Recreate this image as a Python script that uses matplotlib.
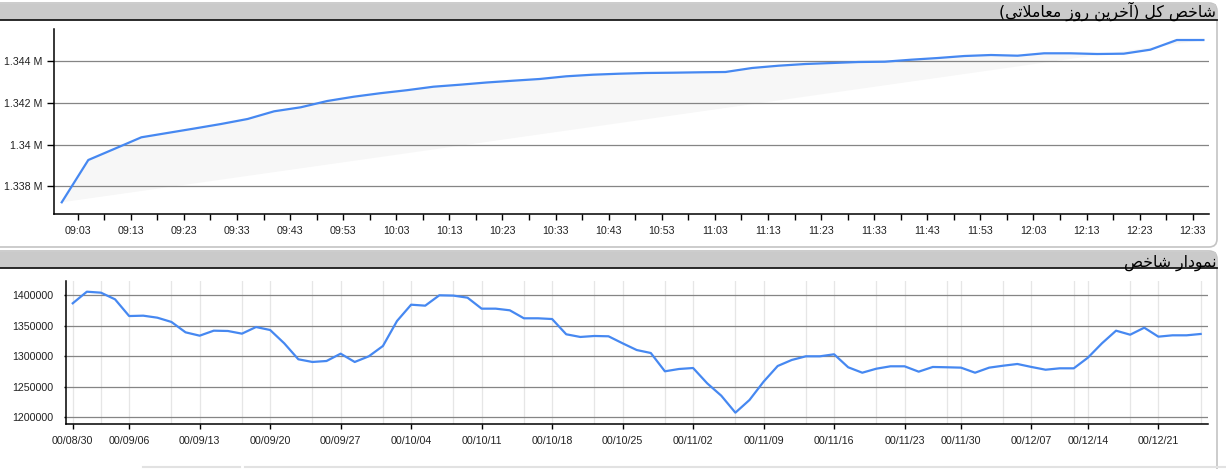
import matplotlib
matplotlib.use("Agg")
import matplotlib.pyplot as plt
from matplotlib.patches import FancyBboxPatch, Rectangle

# ---- داده‌ها: شاخص کل در آخرین روز معاملاتی (هر ۵ دقیقه)
times = ["09:00", "09:05", "09:10", "09:15", "09:20", "09:25", "09:30", "09:35",
         "09:40", "09:45", "09:50", "09:55", "10:00", "10:05", "10:10", "10:15",
         "10:20", "10:25", "10:30", "10:35", "10:40", "10:45", "10:50", "10:55",
         "11:00", "11:05", "11:10", "11:15", "11:20", "11:25", "11:30", "11:35",
         "11:40", "11:45", "11:50", "11:55", "12:00", "12:05", "12:10", "12:15",
         "12:20", "12:25", "12:30", "12:35"]
intraday = [1337235, 1339264, 1339807, 1340354, 1340565, 1340776, 1340992, 1341232,
            1341601, 1341793, 1342095, 1342301, 1342469, 1342613, 1342781, 1342877,
            1342983, 1343069, 1343151, 1343280, 1343357, 1343405, 1343439, 1343453,
            1343472, 1343487, 1343679, 1343789, 1343870, 1343918, 1343966, 1343981,
            1344077, 1344158, 1344254, 1344302, 1344269, 1344384, 1344384, 1344350,
            1344365, 1344557, 1345022, 1345022]
top_yticks = [1338000, 1340000, 1342000, 1344000]
top_ylabels = ["1.338 M", "1.34 M", "1.342 M", "1.344 M"]

# ---- داده‌ها: نمودار شاخص (روزهای معاملاتی)
daily = [1386900, 1405900, 1404300, 1393400, 1366000, 1366600, 1363300, 1356300,
         1339300, 1333800, 1342000, 1341500, 1337100, 1348000, 1343100, 1321300,
         1295100, 1290700, 1292300, 1304300, 1290700, 1300000, 1316900, 1357900,
         1384600, 1383000, 1400000, 1399500, 1396100, 1378100, 1378100, 1375400,
         1362300, 1362300, 1361100, 1336100, 1331700, 1333300, 1332800, 1321300,
         1310300, 1305400, 1275400, 1279200, 1280800, 1255700, 1235400, 1207600,
         1228400, 1258400, 1284100, 1294000, 1300000, 1300000, 1303300, 1282000,
         1273100, 1279700, 1283600, 1283600, 1274800, 1282500, 1282000, 1281400,
         1273100, 1281400, 1284600, 1287400, 1282500, 1278000, 1280300, 1280300,
         1297700, 1321300, 1342000, 1335400, 1346900, 1332200, 1334400, 1334400,
         1336600]
date_idx = [0, 4, 9, 14, 19, 24, 29, 34, 39, 44, 49, 54, 59, 63, 68, 72, 77]
date_labels = ["00/08/30", "00/09/06", "00/09/13", "00/09/20", "00/09/27",
               "00/10/04", "00/10/11", "00/10/18", "00/10/25", "00/11/02",
               "00/11/09", "00/11/16", "00/11/23", "00/11/30", "00/12/07",
               "00/12/14", "00/12/21"]
mid_idx = [2, 7, 12, 17, 22, 27, 32, 37, 42, 47, 52, 57, 62, 66, 71, 75, 80]
bottom_yticks = [1200000, 1250000, 1300000, 1350000, 1400000]

title_top = "شاخص کل (آخرین روز معاملاتی)"
title_bottom = "نمودار شاخص"

# شکل‌دهی ساده حروف فارسی (matplotlib اتصال و راست‌به‌چپ ندارد)
FORMS = {  # isolated, final, initial, medial
    "ا": ("\uFE8D", "\uFE8E", None, None),
    "آ": ("\uFE81", "\uFE82", None, None),
    "د": ("\uFEA9", "\uFEAA", None, None),
    "ر": ("\uFEAD", "\uFEAE", None, None),
    "ز": ("\uFEAF", "\uFEB0", None, None),
    "و": ("\uFEED", "\uFEEE", None, None),
    "ت": ("\uFE95", "\uFE96", "\uFE97", "\uFE98"),
    "خ": ("\uFEA5", "\uFEA6", "\uFEA7", "\uFEA8"),
    "ش": ("\uFEB5", "\uFEB6", "\uFEB7", "\uFEB8"),
    "ص": ("\uFEB9", "\uFEBA", "\uFEBB", "\uFEBC"),
    "ع": ("\uFEC9", "\uFECA", "\uFECB", "\uFECC"),
    "ل": ("\uFEDD", "\uFEDE", "\uFEDF", "\uFEE0"),
    "م": ("\uFEE1", "\uFEE2", "\uFEE3", "\uFEE4"),
    "ن": ("\uFEE5", "\uFEE6", "\uFEE7", "\uFEE8"),
    "ک": ("\uFB8E", "\uFB8F", "\uFB90", "\uFB91"),
    "ی": ("\uFBFC", "\uFBFD", "\uFBFE", "\uFBFF"),
}


def shape(s):
    items = []
    i = 0
    while i < len(s):
        if s[i] == "ل" and i + 1 < len(s) and s[i + 1] == "ا":
            items.append("LA")
            i += 2
        else:
            items.append(s[i])
            i += 1
    res = []
    for i, c in enumerate(items):
        prev = items[i - 1] if i > 0 else None
        nxt = items[i + 1] if i + 1 < len(items) else None
        joins_prev = prev in FORMS and FORMS[prev][2] is not None
        if c == "LA":
            res.append("\uFEFC" if joins_prev else "\uFEFB")
            continue
        if c not in FORMS:
            res.append(c)
            continue
        f = FORMS[c]
        joins_next = f[2] is not None and (nxt in FORMS or nxt == "LA")
        if joins_prev and joins_next:
            res.append(f[3])
        elif joins_prev:
            res.append(f[1])
        elif joins_next:
            res.append(f[2])
        else:
            res.append(f[0])
    return "".join(reversed(res)).translate(str.maketrans("()", ")("))


plt.rcParams["font.family"] = ["Liberation Sans", "DejaVu Sans"]
W, H = 1226, 469
fig = plt.figure(figsize=(W / 100, H / 100), dpi=100)

# پس‌زمینه صفحه: قاب‌ها و نوار عنوان
bg = fig.add_axes([0, 0, 1, 1])
bg.set_xlim(0, W)
bg.set_ylim(H, 0)
bg.axis("off")
for y0, h in [(3, 244), (251, 260)]:
    bg.add_patch(FancyBboxPatch((-20, y0), 1237, h, boxstyle="round,pad=0,rounding_size=8",
                                fc="white", ec="#c4c4c4", lw=1.2))
    bg.add_patch(Rectangle((0, y0 + 1), 1216, 16, fc="#cacaca", ec="none"))
    bg.plot([0, 1217], [y0 + 17, y0 + 17], color="#1a1a1a", lw=1.3)
bg.plot([143, 240], [467.5, 467.5], color="#e2e2e2", lw=1.5)
bg.plot([245, 1226], [467.5, 467.5], color="#e2e2e2", lw=1.5)
bg.text(1216, 11.5, shape(title_top), family="DejaVu Sans", fontsize=11.3,
        ha="right", va="center", color="black")
bg.text(1216, 262.5, shape(title_bottom), family="DejaVu Sans", fontsize=11.3,
        ha="right", va="center", color="black")

line_color = "#4688f1"
grid_color = "#858585"

# ---- نمودار بالا
minutes = [int(t[:2]) * 60 + int(t[3:]) - 540 for t in times]
ax1 = fig.add_axes([54.3 / W, 1 - 214.3 / H, 1154.4 / W, 185.3 / H])
ax1.fill(minutes, intraday, color="#f7f7f7", lw=0, zorder=1)
ax1.plot(minutes, intraday, color=line_color, lw=1.6, zorder=3)
ax1.set_xlim(-1.4, 216)
ax1.set_ylim(1336659, 1345550)
major = list(range(3, 216, 10))
ax1.set_xticks(major)
ax1.set_xticklabels([f"{9 + (m // 60):02d}:{m % 60:02d}" for m in major])
ax1.set_xticks(list(range(8, 216, 10)), minor=True)
ax1.set_yticks(top_yticks)
ax1.set_yticklabels(top_ylabels)
for y in top_yticks:
    ax1.axhline(y, color=grid_color, lw=0.9, zorder=2)
ax1.tick_params(axis="x", which="both", length=4.3, width=1, pad=4, labelsize=7.7,
                colors="black", labelcolor="#222222")
ax1.tick_params(axis="y", length=4.8, width=1, pad=3.5, labelsize=7.7,
                colors="black", labelcolor="#222222")

# ---- نمودار پایین
ax2 = fig.add_axes([65.7 / W, 1 - 424 / H, 1142 / W, 143.3 / H])
for i in date_idx + mid_idx:
    ax2.axvline(i, color="#e6e6e6", lw=0.9, zorder=1)
for y in bottom_yticks:
    ax2.axhline(y, color=grid_color, lw=0.9, zorder=2)
ax2.plot(range(len(daily)), daily, color=line_color, lw=1.6, zorder=3)
ax2.set_xlim(-0.5, 80.5)
ax2.set_ylim(1189016, 1423934)
ax2.set_xticks(date_idx)
ax2.set_xticklabels(date_labels)
ax2.set_yticks(bottom_yticks)
ax2.set_yticklabels([str(v) for v in bottom_yticks])
ax2.tick_params(axis="x", length=3.6, width=1, pad=5, labelsize=7.7, labelcolor="#222222")
ax2.tick_params(axis="y", length=1.8, width=1, pad=7, labelsize=7.7, labelcolor="#222222")

for ax in (ax1, ax2):
    ax.spines["top"].set_visible(False)
    ax.spines["right"].set_visible(False)
    ax.spines["left"].set_linewidth(1.1)
    ax.spines["bottom"].set_linewidth(1.1)

fig.savefig("out.png", dpi=100, facecolor="white")
